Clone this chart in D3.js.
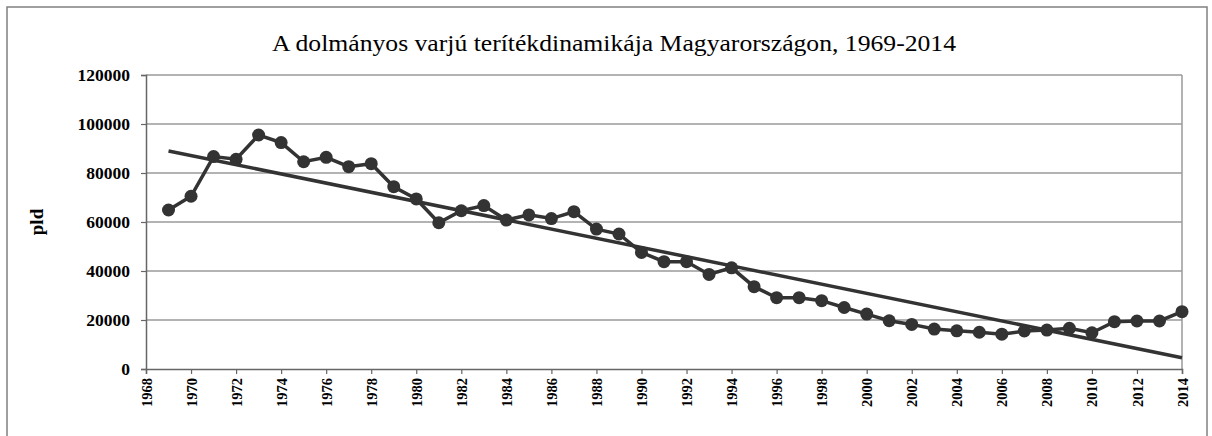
<!DOCTYPE html>
<html>
<head>
<meta charset="utf-8">
<script src="https://cdn.jsdelivr.net/npm/d3@7"></script>
<style>
  html, body { margin: 0; padding: 0; background: #fff; }
  svg { display: block; }
  svg text { font-family: "Liberation Serif", "Times New Roman", Times, Tinos, "DejaVu Serif", serif !important; }
</style>
</head>
<body>
<svg id="chart" width="1212" height="436"></svg>
<script>
const years = [1969,1970,1971,1972,1973,1974,1975,1976,1977,1978,1979,1980,1981,1982,1983,1984,1985,1986,1987,1988,1989,1990,1991,1992,1993,1994,1995,1996,1997,1998,1999,2000,2001,2002,2003,2004,2005,2006,2007,2008,2009,2010,2011,2012,2013,2014];
const values = [64900,70500,86700,85600,95500,92400,84600,86400,82600,83800,74400,69400,59700,64600,66700,60800,62900,61400,64200,57100,55100,47600,43800,43800,38600,41300,33600,29100,29100,27900,25100,22400,19700,18200,16300,15600,15000,14200,15500,15900,16600,14800,19300,19600,19600,23400];
const trendYears = [1969, 2014];
const trendValues = [89000, 4600];
const yTicks = [0,20000,40000,60000,80000,100000,120000];
const xTicks = [1968,1970,1972,1974,1976,1978,1980,1982,1984,1986,1988,1990,1992,1994,1996,1998,2000,2002,2004,2006,2008,2010,2012,2014];
const title = "A dolmányos varjú terítékdinamikája Magyarországon, 1969-2014";
const yLabel = "pld";

const svg = d3.select("#chart");
const mLeft = 146, mRight = 1182, mTop = 75, mBottom = 369;

const x = d3.scaleLinear().domain([1968, 2014]).range([mLeft, mRight]);
const y = d3.scaleLinear().domain([0, 120000]).range([mBottom, mTop]);

// outer frame
svg.append("rect").attr("x", 7).attr("y", 7).attr("width", 1200).attr("height", 460)
  .attr("fill", "none").attr("stroke", "#808080").attr("stroke-width", 1.5);

// gridlines
svg.append("g").selectAll("line").data(yTicks.filter(d => d > 0)).join("line")
  .attr("x1", mLeft).attr("x2", mRight)
  .attr("y1", d => y(d)).attr("y2", d => y(d))
  .attr("stroke", "#9a9a9a").attr("stroke-width", 1.5);

// right border of plot area
svg.append("line").attr("x1", mRight).attr("x2", mRight).attr("y1", mTop).attr("y2", mBottom)
  .attr("stroke", "#9a9a9a").attr("stroke-width", 1.5);

// y axis
const yAxis = d3.axisLeft(y).tickValues(yTicks).tickSize(5).tickPadding(11).tickFormat(d3.format("d"));
const gy = svg.append("g").attr("transform", `translate(${mLeft},0)`).call(yAxis);
gy.attr("font-family", null);
gy.select(".domain").attr("stroke", "#666").attr("stroke-width", 1.5);
gy.selectAll(".tick line").attr("stroke", "#666").attr("stroke-width", 1.2);
gy.selectAll(".tick text")
  .attr("font-weight", "bold").attr("font-size", 17.5).attr("fill", "#000");

// x axis
const xAxis = d3.axisBottom(x).tickValues(xTicks).tickSize(5).tickFormat(d3.format("d"));
const gx = svg.append("g").attr("transform", `translate(0,${mBottom})`).call(xAxis);
gx.attr("font-family", null);
gx.select(".domain").attr("stroke", "#666").attr("stroke-width", 1.5);
gx.selectAll(".tick line").attr("stroke", "#666").attr("stroke-width", 1.2);
gx.selectAll(".tick text")
  .attr("font-weight", "bold").attr("font-size", 14.5).attr("fill", "#000")
  .attr("text-anchor", "end")
  .attr("dy", "0.35em")
  .attr("transform", "translate(0,4) rotate(-90)")
  .attr("x", -5).attr("y", 0);

// trend line
const line = d3.line().x(d => x(d[0])).y(d => y(d[1]));
svg.append("path")
  .datum(trendYears.map((yr, i) => [yr, trendValues[i]]))
  .attr("d", line).attr("fill", "none").attr("stroke", "#333").attr("stroke-width", 3.5);

// data series
const pts = years.map((yr, i) => [yr, values[i]]);
svg.append("path").datum(pts).attr("d", line)
  .attr("fill", "none").attr("stroke", "#333").attr("stroke-width", 3.5);
svg.append("g").selectAll("circle").data(pts).join("circle")
  .attr("cx", d => x(d[0])).attr("cy", d => y(d[1])).attr("r", 6.5)
  .attr("fill", "#333");

// title
svg.append("text").attr("x", 614).attr("y", 51).attr("text-anchor", "middle")
  .attr("font-size", 23).attr("fill", "#000")
  .attr("textLength", 684).attr("lengthAdjust", "spacingAndGlyphs").text(title);

// y label
svg.append("text").attr("transform", "translate(43,222) rotate(-90)")
  .attr("text-anchor", "middle").attr("font-weight", "bold").attr("font-size", 19)
  .attr("fill", "#000").text(yLabel);
</script>
</body>
</html>
